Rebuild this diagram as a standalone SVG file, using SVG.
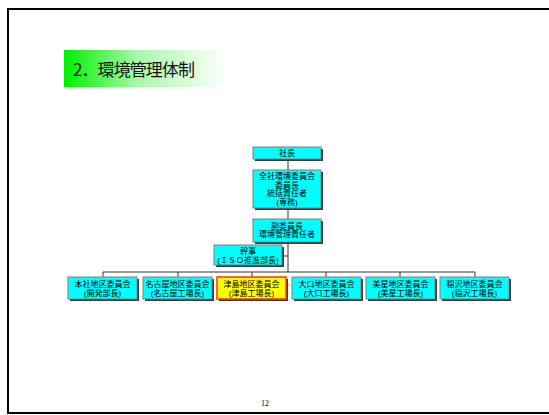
<svg xmlns="http://www.w3.org/2000/svg" width="549" height="415" viewBox="0 0 549 415">
<defs>
<linearGradient id="tg" x1="0" y1="0" x2="1" y2="0">
<stop offset="0" stop-color="#00f000"/>
<stop offset="0.45" stop-color="#a8f8a8"/>
<stop offset="1" stop-color="#ffffff"/>
</linearGradient>
<style>
.bx{fill:#00ffff;stroke:#7f7f7f;stroke-width:1}
.sh{fill:#3a3a3a}
.hl{fill:#ffff00;stroke:#ff3300;stroke-width:1.5}
.t{font-family:"Liberation Sans","Noto Sans CJK JP",sans-serif;font-size:8px;fill:#000;text-anchor:middle}
.ln{stroke:#333;stroke-width:1;fill:none}
</style>
</defs>
<rect x="0" y="0" width="549" height="415" fill="#fff"/>
<rect x="8" y="9" width="570" height="404" fill="none" stroke="#000" stroke-width="2"/>
<rect x="64" y="50" width="163" height="37" fill="url(#tg)"/>
<text x="73" y="76" font-family="Noto Sans CJK JP,sans-serif" font-size="17" fill="#111" textLength="122" lengthAdjust="spacing">2．環境管理体制</text>
<g id="connectors">
<path class="ln" d="M288 159V170M288 208V219M288 242V272M283 256H288M103 272H475M103 272V277M178 272V277M252 272V277M326 272V277M400 272V277M475 272V277"/>
</g>
<g id="n_shacho">
<rect class="sh" x="255" y="149" width="68" height="12"/>
<rect class="bx" x="253" y="147" width="68" height="12"/>
<text class="t" x="287" y="156">社長</text>
</g>
<g id="n_zensha">
<rect class="sh" x="255" y="172" width="68" height="38"/>
<rect class="bx" x="253" y="170" width="68" height="38"/>
<text class="t" x="287" y="179">全社環境委員会</text>
<text class="t" x="287" y="187.5">委員長</text>
<text class="t" x="287" y="196">統括責任者</text>
<text class="t" x="287" y="205">(専務)</text>
</g>
<g id="n_fuku">
<rect class="sh" x="255" y="221" width="68" height="23"/>
<rect class="bx" x="253" y="219" width="68" height="23"/>
<text class="t" x="287" y="228.5">副委員長</text>
<text class="t" x="287" y="237">環境管理責任者</text>
</g>
<g id="n_kanji">
<rect class="sh" x="216" y="247" width="68" height="20"/>
<rect class="bx" x="214" y="245" width="68" height="20"/>
<text class="t" x="248" y="254">幹事</text>
<text class="t" x="248" y="262.5">(ＩＳＯ推進部長)</text>
</g>
<g id="n_honsha">
<rect class="sh" x="70" y="279" width="69" height="22"/>
<rect class="bx" x="68" y="277" width="69" height="22"/>
<text class="t" x="102.5" y="287">本社地区委員会</text>
<text class="t" x="102.5" y="295.5">(開発部長)</text>
</g>
<g id="n_nagoya">
<rect class="sh" x="145" y="279" width="69" height="22"/>
<rect class="bx" x="143" y="277" width="69" height="22"/>
<text class="t" x="177.5" y="287">名古屋地区委員会</text>
<text class="t" x="177.5" y="295.5">(名古屋工場長)</text>
</g>
<g id="n_tsushima">
<rect class="sh" x="219" y="279" width="69" height="22"/>
<rect class="hl" x="217" y="277" width="69" height="22"/>
<text class="t" x="251.5" y="287">津島地区委員会</text>
<text class="t" x="251.5" y="295.5">(津島工場長)</text>
</g>
<g id="n_oguchi">
<rect class="sh" x="294" y="279" width="69" height="22"/>
<rect class="bx" x="292" y="277" width="69" height="22"/>
<text class="t" x="326.5" y="287">大口地区委員会</text>
<text class="t" x="326.5" y="295.5">(大口工場長)</text>
</g>
<g id="n_bisei">
<rect class="sh" x="368" y="279" width="69" height="22"/>
<rect class="bx" x="366" y="277" width="69" height="22"/>
<text class="t" x="400.5" y="287">美星地区委員会</text>
<text class="t" x="400.5" y="295.5">(美星工場長)</text>
</g>
<g id="n_inazawa">
<rect class="sh" x="442" y="279" width="69" height="22"/>
<rect class="bx" x="440" y="277" width="69" height="22"/>
<text class="t" x="474.5" y="287">稲沢地区委員会</text>
<text class="t" x="474.5" y="295.5">(稲沢工場長)</text>
</g>
<text x="265" y="406" font-family="Liberation Serif,serif" font-size="8" fill="#000" text-anchor="middle">12</text>
</svg>
